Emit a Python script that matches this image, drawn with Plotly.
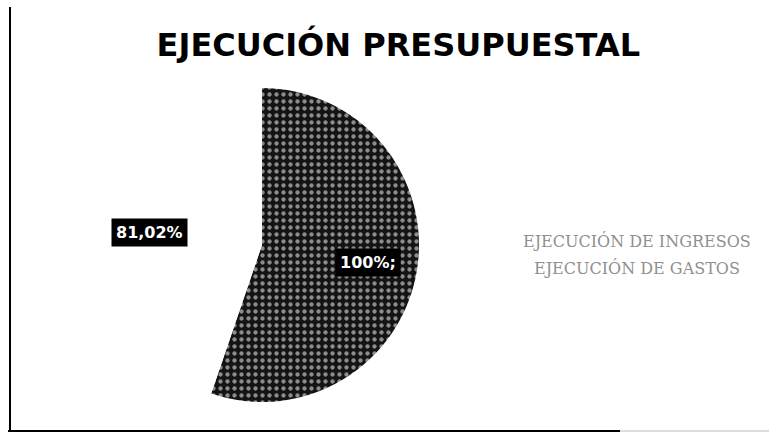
import plotly.graph_objects as go

# Data
categories = ["EJECUCIÓN DE INGRESOS", "EJECUCIÓN DE GASTOS"]
values = [100, 81.02]
label_texts = ["100%;", "81,02%"]
title_text = "EJECUCIÓN PRESUPUESTAL"

W, H = 769, 439

fig = go.Figure()
fig.add_trace(go.Pie(
    labels=categories,
    values=values,
    sort=False,
    direction="clockwise",
    rotation=0,
    textinfo="none",
    hoverinfo="label+value",
    showlegend=False,
    marker=dict(
        colors=["#141414", "#ffffff"],
        line=dict(width=0),
        pattern=dict(shape=[".", ""], fgcolor=["#8c8c8c", "#ffffff"],
                     bgcolor=["#141414", "#ffffff"], fillmode="replace",
                     size=7, solidity=0.3),
    ),
    domain=dict(x=[0.1365, 0.5449], y=[0.0843, 0.7995]),
))

# value labels with dark boxes
label_pos = [(0.4785, 0.403), (0.195, 0.4715)]
for txt, (x, y) in zip(label_texts, label_pos):
    fig.add_annotation(
        x=x, y=y, xref="paper", yref="paper", xanchor="center", yanchor="middle",
        text=f"<b>{txt}</b>", showarrow=False,
        font=dict(family="DejaVu Sans", size=16, color="white"),
        bgcolor="black", borderpad=4,
    )

# legend text (markers lost in reference)
leg_y = [0.451, 0.3895]
for cat, y in zip(categories, leg_y):
    fig.add_annotation(
        x=0.828, y=y, xref="paper", yref="paper", xanchor="center", yanchor="middle",
        text=cat, showarrow=False,
        font=dict(family="DejaVu Serif", size=16, color="#909090"),
    )

# frame lines
fig.add_shape(type="line", xref="paper", yref="paper", x0=10/W, x1=10/W, y0=1-7/H, y1=1-431/H,
              line=dict(color="black", width=2))
fig.add_shape(type="line", xref="paper", yref="paper", x0=8/W, x1=620/W, y0=1-431/H, y1=1-431/H,
              line=dict(color="black", width=2))
fig.add_shape(type="line", xref="paper", yref="paper", x0=620/W, x1=1, y0=1-431/H, y1=1-431/H,
              line=dict(color="#bbbbbb", width=1))

fig.update_layout(
    width=W, height=H,
    margin=dict(l=0, r=0, t=0, b=0),
    paper_bgcolor="white", plot_bgcolor="white",
    title=dict(text=f"<b>{title_text}</b>", x=0.518, xanchor="center", y=0.8975, yanchor="middle",
               font=dict(family="DejaVu Sans", size=32, color="black")),
)

fig.write_html("out.html", config={"displayModeBar": False},
               post_script="document.body.style.margin='0';document.body.style.overflow='hidden';")
